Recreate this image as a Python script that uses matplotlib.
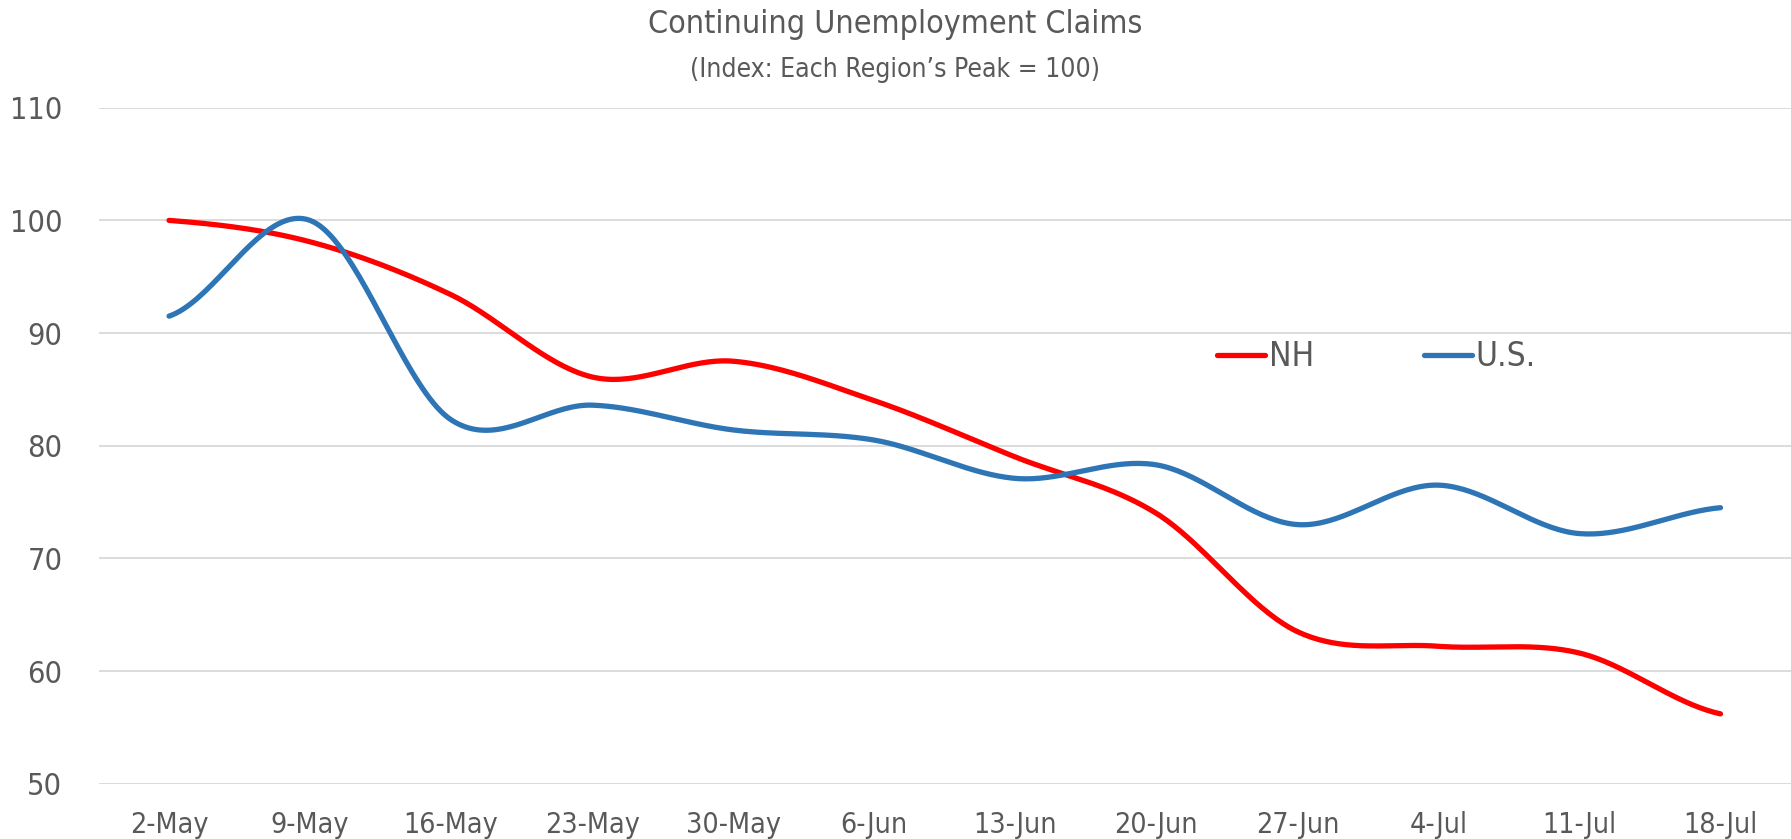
import numpy as np
import matplotlib.pyplot as plt

# Data
weeks = ["2-May", "9-May", "16-May", "23-May", "30-May", "6-Jun",
         "13-Jun", "20-Jun", "27-Jun", "4-Jul", "11-Jul", "18-Jul"]
nh = [100.0, 98.1, 93.4, 86.1, 87.5, 84.0, 79.0, 74.0, 63.5, 62.2, 61.6, 56.2]
us = [91.5, 100.0, 82.3, 83.6, 81.4, 80.5, 77.1, 78.3, 73.0, 76.5, 72.2, 74.5]

TEXT = "#595959"
plt.rcParams['font.family'] = ["DejaVu Sans"]
plt.rcParams['font.stretch'] = "condensed"


def smooth(y, n=40):
    # Excel-style smoothed line (Catmull-Rom / cubic Hermite through the points)
    y = np.asarray(y, dtype=float)
    x = np.arange(len(y), dtype=float)
    ext = np.concatenate([[y[0]], y, [y[-1]]])
    xs, ys = [], []
    for i in range(len(y) - 1):
        p0, p1, p2, p3 = ext[i], ext[i + 1], ext[i + 2], ext[i + 3]
        m1 = (p2 - p0) / 2.0
        m2 = (p3 - p1) / 2.0
        t = np.linspace(0, 1, n, endpoint=(i == len(y) - 2))
        h00 = 2 * t**3 - 3 * t**2 + 1
        h10 = t**3 - 2 * t**2 + t
        h01 = -2 * t**3 + 3 * t**2
        h11 = t**3 - t**2
        xs.append(x[i] + t)
        ys.append(h00 * p1 + h10 * m1 + h01 * p2 + h11 * m2)
    return np.concatenate(xs), np.concatenate(ys)


fig = plt.figure(figsize=(17.91, 8.39), dpi=100)
ax = fig.add_axes([0.055, 0.0659, 0.945, 0.8057])

xn, yn = smooth(nh)
xu, yu = smooth(us)
ax.plot(xn, yn, color="#FF0000", lw=3.8, solid_capstyle="round", label="NH", zorder=3)
ax.plot(xu, yu, color="#2E75B6", lw=3.8, solid_capstyle="round", label="U.S.", zorder=3)

ax.set_xlim(-0.5, len(weeks) - 0.5)
ax.set_ylim(50, 110)
ax.set_yticks(np.arange(50, 111, 10))
ax.set_xticks(range(len(weeks)))
ax.set_xticklabels(weeks)
ax.grid(axis="y", color="#D9D9D9", lw=1.3)
ax.set_axisbelow(True)
for s in ax.spines.values():
    s.set_visible(False)
ax.tick_params(axis="both", length=0, colors=TEXT)
ax.tick_params(axis="y", labelsize=22, pad=26)
ax.tick_params(axis="x", labelsize=20.5, pad=20)

fig.text(0.5, 1 - 33 / 839, "Continuing Unemployment Claims", ha="center",
         va="baseline", fontsize=23, color=TEXT)
fig.text(0.5, 1 - 77 / 839, "(Index: Each Region\u2019s Peak = 100)", ha="center",
         va="baseline", fontsize=19, color=TEXT)

leg = ax.legend(loc="center left", bbox_to_anchor=(1217 / 1791, 1 - 357 / 839),
                bbox_transform=fig.transFigure, ncol=2, frameon=False,
                fontsize=24, handlelength=1.45, handletextpad=0.1,
                columnspacing=3.3, borderpad=0, borderaxespad=0)
for t in leg.get_texts():
    t.set_color(TEXT)

fig.savefig("out.png", dpi=100)
